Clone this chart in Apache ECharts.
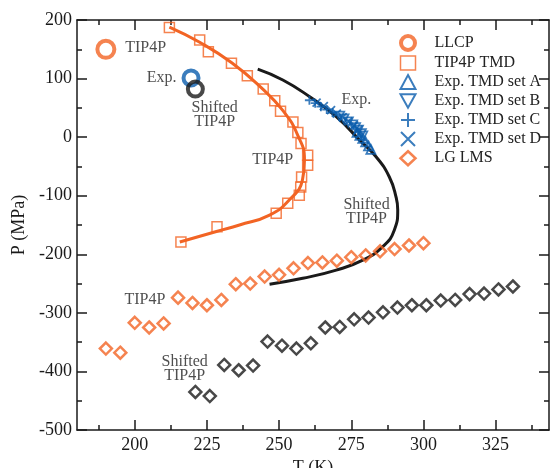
<!DOCTYPE html>
<html>
<head>
<meta charset="utf-8">
<script src="https://cdn.jsdelivr.net/npm/echarts@6/dist/echarts.min.js"></script>
<style>
html, body { margin: 0; background: #fff; }
#chart { width: 550px; height: 468px; }
</style>
</head>
<body>
<div id="chart"></div>
<script>
// axis ticks
const xMajor = [200, 225, 250, 275, 300, 325]
const xMinor = [187.5, 212.5, 237.5, 262.5, 287.5, 312.5, 337.5]

// liquid-liquid critical points
const llcpTip4p = [[190, 150]]
const llcpExp = [[219.5, 101]]
const llcpShifted = [[221, 82]]

// TIP4P TMD points and the fitted line through them
const tip4pTmd = [[212, 187], [222.5, 166], [225.5, 146], [233.5, 126], [239, 105], [244.5, 82],
  [248.5, 62], [250.5, 44], [254.8, 26], [256.5, 8], [257.6, -11], [259.9, -31], [259.9, -48],
  [257.8, -68], [257.5, -85], [257, -99], [253, -113], [249, -130], [228.5, -153], [216, -179]]
const tip4pFit = [[212, 188], [222.5, 162], [233.6, 127], [243.9, 84], [251.2, 46], [256.4, 4],
  [258.8, -39], [258.1, -73], [253.6, -107], [246.7, -133], [236.3, -150], [228.3, -161], [215.6, -179]]
const shiftedFit = [[242.6, 116], [251.3, 97.5], [260.6, 69], [269.8, 35], [277.9, -5], [283.6, -33.5],
  [288.2, -68], [290.5, -102], [291.1, -124], [289.9, -159], [285.9, -187], [279, -210],
  [269.8, -227], [258.2, -241], [246.7, -251]]

// experimental TMD sets
const expSetA = [[277, 8], [278, 3], [279, -2], [280, -8], [281, -15], [281.8, -21]]
const expSetB = [[271, 36], [272.5, 31], [274, 26], [275.5, 21], [276.5, 16], [277.5, 12], [278.5, 6], [279, 2]]
const expSetC = [[260.5, 63], [262.5, 58], [264.5, 52], [266.5, 47], [268.5, 42]]
const expSetD = [[263, 59], [265.5, 53], [268, 46], [270, 40], [272, 34], [274, 27], [276, 20], [277.5, 13]]

// liquid-gas limit of mechanical stability
const lmsTip4pT = [190, 195, 200, 205, 210, 215, 220, 225, 230, 235, 240, 245, 250, 255, 260, 265, 270, 275, 280, 285, 290, 295, 300]
const lmsTip4pP = [-361, -368, -317, -325, -318, -274, -283, -287, -278, -251, -250, -238, -235, -224, -215, -214, -211, -205, -202, -195, -191, -185, -181]
const lmsShiftedT = [221, 226, 231, 236, 241, 246, 251, 256, 261, 266, 271, 276, 281, 286, 291, 296, 301, 306, 311, 316, 321, 326, 331]
const lmsShiftedP = [-435, -442, -389, -398, -390, -349, -356, -361, -352, -325, -324, -311, -308, -299, -291, -287, -287, -279, -278, -268, -267, -260, -255]

// text annotations [T, P, text]
const notes = [
  [203.8, 152, 'TIP4P'],
  [209.3, 101, 'Exp.'],
  [227.7, 39, 'Shifted\nTIP4P'],
  [276.8, 63, 'Exp.'],
  [247.8, -39, 'TIP4P'],
  [280.3, -128, 'Shifted\nTIP4P'],
  [203.5, -278, 'TIP4P'],
  [217.3, -396, 'Shifted\nTIP4P']
]

const ORANGE = '#f26424'
const BLUE = '#0a5cad'
const BLACK = '#1a1a1a'
const FONT = 'Liberation Serif'
const NONE = 'rgba(0,0,0,0)'

const pair = (xs, ys) => xs.map((x, i) => [x, ys[i]])
const hollow = (c, w) => ({ color: NONE, borderColor: c, borderWidth: w })

const plusPath = 'path://M0,5L10,5M5,0L5,10'
const crossPath = 'path://M0,0L10,10M10,0L0,10'
const downTri = 'path://M0,0L10,0L5,9Z'

const chart = echarts.init(document.getElementById('chart'))

const xBase = {
  type: 'value', min: 180, max: 343.5, gridIndex: 0,
  splitLine: { show: false },
  axisLine: { onZero: false, lineStyle: { color: BLACK, width: 1.5 } }
}
const tickOnly = (pos, vals, len, showLine) => Object.assign({}, xBase, {
  position: pos,
  axisLine: { show: showLine, onZero: false, lineStyle: { color: BLACK, width: 1.5 } },
  axisLabel: { show: false },
  axisTick: { inside: true, length: len, customValues: vals, lineStyle: { color: BLACK, width: 1.5 } }
})

const option = {
  animation: false,
  grid: { left: 77, right: 1, top: 20, bottom: 38, outerBoundsMode: 'none', containLabel: false },
  xAxis: [
    Object.assign({}, xBase, {
      position: 'bottom',
      name: 'T (K)', nameLocation: 'middle', nameGap: 22,
      nameTextStyle: { fontFamily: FONT, fontSize: 18, color: BLACK },
      axisTick: { inside: true, length: 10, customValues: xMajor, lineStyle: { color: BLACK, width: 1.5 } },
      axisLabel: { customValues: xMajor, fontFamily: FONT, fontSize: 18, color: BLACK, margin: 6 }
    }),
    tickOnly('bottom', xMinor, 5, false),
    tickOnly('top', xMajor, 10, true),
    tickOnly('top', xMinor, 5, false)
  ],
  yAxis: [
    {
      type: 'value', min: -500, max: 200, interval: 100, position: 'left',
      name: 'P (MPa)', nameLocation: 'middle', nameGap: 48,
      nameTextStyle: { fontFamily: FONT, fontSize: 18, color: BLACK },
      splitLine: { show: false },
      axisLine: { onZero: false, lineStyle: { color: BLACK, width: 1.5 } },
      axisTick: { inside: true, length: 10, lineStyle: { color: BLACK, width: 1.5 } },
      minorTick: { show: true, splitNumber: 2, length: 5, lineStyle: { color: BLACK, width: 1.5 } },
      axisLabel: { fontFamily: FONT, fontSize: 18, color: BLACK, margin: 5 }
    },
    {
      type: 'value', min: -500, max: 200, interval: 100, position: 'right',
      splitLine: { show: false },
      axisLine: { show: true, onZero: false, lineStyle: { color: BLACK, width: 1.5 } },
      axisTick: { inside: true, length: 10, lineStyle: { color: BLACK, width: 1.5 } },
      minorTick: { show: true, splitNumber: 2, length: 5, lineStyle: { color: BLACK, width: 1.5 } },
      axisLabel: { show: false }
    }
  ],
  legend: {
    orient: 'vertical', left: 399, top: 34, padding: 0,
    itemWidth: 15, itemHeight: 14, itemGap: 3,
    textStyle: { fontFamily: FONT, fontSize: 16, color: '#222', padding: [0, 0, 0, 14] },
    data: [
      { name: 'LLCP', icon: 'circle', itemStyle: hollow(ORANGE, 4) },
      { name: 'TIP4P TMD', icon: 'rect', itemStyle: hollow(ORANGE, 1.5) },
      { name: 'Exp. TMD set A', icon: 'triangle', itemStyle: hollow(BLUE, 2) },
      { name: 'Exp. TMD set B', icon: downTri, itemStyle: hollow(BLUE, 2) },
      { name: 'Exp. TMD set C', icon: plusPath, itemStyle: hollow(BLUE, 2) },
      { name: 'Exp. TMD set D', icon: crossPath, itemStyle: hollow(BLUE, 2) },
      { name: 'LG LMS', icon: 'diamond', itemStyle: hollow(ORANGE, 2.5) }
    ]
  },
  series: [
    {
      name: 'TIP4P fit', type: 'line', data: tip4pFit, smooth: true, showSymbol: false,
      lineStyle: { color: ORANGE, width: 3 }, z: 2
    },
    {
      name: 'Shifted fit', type: 'line', data: shiftedFit, smooth: true, showSymbol: false,
      lineStyle: { color: BLACK, width: 3 }, z: 2
    },
    {
      name: 'TIP4P TMD', type: 'scatter', data: tip4pTmd, symbol: 'rect', symbolSize: 10,
      itemStyle: hollow(ORANGE, 1.5), z: 3
    },
    {
      name: 'Exp. TMD set A', type: 'scatter', data: expSetA, symbol: 'triangle', symbolSize: 9,
      itemStyle: hollow(BLUE, 1.8), z: 4
    },
    {
      name: 'Exp. TMD set B', type: 'scatter', data: expSetB, symbol: downTri, symbolSize: 9,
      itemStyle: hollow(BLUE, 1.8), z: 4
    },
    {
      name: 'Exp. TMD set C', type: 'scatter', data: expSetC, symbol: plusPath, symbolSize: 9,
      itemStyle: hollow(BLUE, 1.8), z: 4
    },
    {
      name: 'Exp. TMD set D', type: 'scatter', data: expSetD, symbol: crossPath, symbolSize: 8,
      itemStyle: hollow(BLUE, 1.8), z: 4
    },
    {
      name: 'LG LMS', type: 'scatter', data: pair(lmsTip4pT, lmsTip4pP), symbol: 'diamond', symbolSize: 12,
      itemStyle: hollow(ORANGE, 2.5), z: 3
    },
    {
      name: 'LG LMS shifted', type: 'scatter', data: pair(lmsShiftedT, lmsShiftedP), symbol: 'diamond', symbolSize: 12,
      itemStyle: hollow(BLACK, 2.5), z: 3
    },
    {
      name: 'LLCP', type: 'scatter', data: llcpTip4p, symbol: 'circle', symbolSize: 17,
      itemStyle: hollow(ORANGE, 4), z: 5
    },
    {
      name: 'LLCP exp', type: 'scatter', data: llcpExp, symbol: 'circle', symbolSize: 15,
      itemStyle: hollow(BLUE, 4), z: 5
    },
    {
      name: 'LLCP shifted', type: 'scatter', data: llcpShifted, symbol: 'circle', symbolSize: 15,
      itemStyle: hollow(BLACK, 4), z: 6
    },
    {
      name: 'notes', type: 'scatter', symbolSize: 0, silent: true, z: 7,
      data: notes.map(n => ({ value: [n[0], n[1]], name: n[2] })),
      label: {
        show: true, position: 'inside', formatter: '{b}',
        fontFamily: FONT, fontSize: 16, lineHeight: 14, color: '#222', align: 'center'
      }
    }
  ]
}

chart.setOption(option)
</script>
</body>
</html>
